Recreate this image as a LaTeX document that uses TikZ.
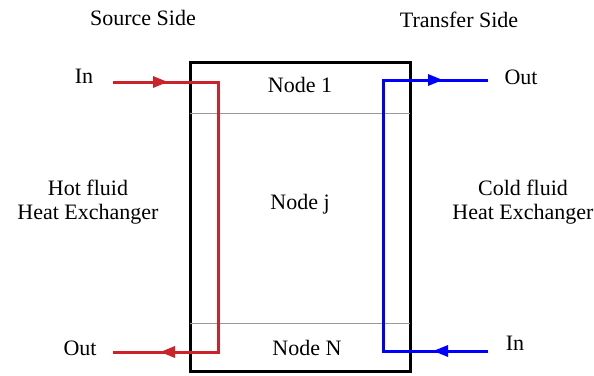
\documentclass[tikz,border=0pt]{standalone}
\usepackage{fontspec}
\setmainfont{Liberation Serif}
\usepackage{tikz}
\usepackage{xcolor}
\usetikzlibrary{arrows.meta, positioning}

\definecolor{hotred}{RGB}{204,34,41}
\definecolor{coldblue}{RGB}{0,0,255}

\tikzset{
    lbl/.style={font=\fontsize{11}{12}\selectfont, align=center, inner sep=0pt},
    hxbox/.style={draw, line width=1.5pt, minimum width=110pt, minimum height=154.5pt, inner sep=0pt},
    sep/.style={gray!80, line width=0.5pt},
    hotline/.style={hotred, line width=1.5pt},
    coldline/.style={coldblue, line width=1.5pt},
    tip/.style={-{Triangle[length=7.5pt,width=5.5pt]}}
}

\begin{document}
\begin{tikzpicture}[x=0.5pt, y=-0.5pt]
    \useasboundingbox (0,0) rectangle (594,375);

    % =========================================================
    % EXCHANGER BODY AND NODE SLICES
    % =========================================================
    \node[hxbox] (hx) at (300,216.5) {};
    \coordinate (sepAw) at (190,113);
    \coordinate (sepAe) at (410,113);
    \coordinate (sepBw) at (190,323);
    \coordinate (sepBe) at (410,323);
    \draw[sep] (sepAw) -- (sepAe);
    \draw[sep] (sepBw) -- (sepBe);

    \node[lbl] (nodeone) at (300,85) {Node 1};
    \node[lbl] (nodej) at (300,204) {Node j};
    \node[lbl] (nodeN) at (307,348) {Node N};

    % =========================================================
    % SOURCE SIDE (HOT FLUID)
    % =========================================================
    \node[lbl] (srcside) at (143,18) {Source Side};
    \node[lbl] (hotlbl) at (88,202) {Hot fluid\\Heat Exchanger};
    \node[lbl] (hotin) at (84,76) {In};
    \node[lbl] (hotout) at (80,348) {Out};

    \coordinate (hin) at (113,82);
    \coordinate (htop) at (218,82);
    \coordinate (hbot) at (218,352);
    \coordinate (hout) at (113,352);
    \coordinate (hintip) at (168,82);
    \coordinate (houttip) at (160,352);
    \draw[hotline] (hin) -- (htop) -- (hbot) -- (hout);
    \draw[hotline, tip] (hin) -- (hintip);
    \draw[hotline, tip] (hbot) -- (houttip);

    % =========================================================
    % TRANSFER SIDE (COLD FLUID)
    % =========================================================
    \node[lbl] (trside) at (459,20) {Transfer Side};
    \node[lbl] (coldlbl) at (523,202) {Cold fluid\\Heat Exchanger};
    \node[lbl] (coldout) at (521,77) {Out};
    \node[lbl] (coldin) at (515,343) {In};

    \coordinate (cin) at (488,351);
    \coordinate (cbot) at (383,351);
    \coordinate (ctop) at (383,80);
    \coordinate (cout) at (488,80);
    \coordinate (cintip) at (433,351);
    \coordinate (couttip) at (443,80);
    \draw[coldline] (cin) -- (cbot) -- (ctop) -- (cout);
    \draw[coldline, tip] (cin) -- (cintip);
    \draw[coldline, tip] (ctop) -- (couttip);
\end{tikzpicture}
\end{document}
